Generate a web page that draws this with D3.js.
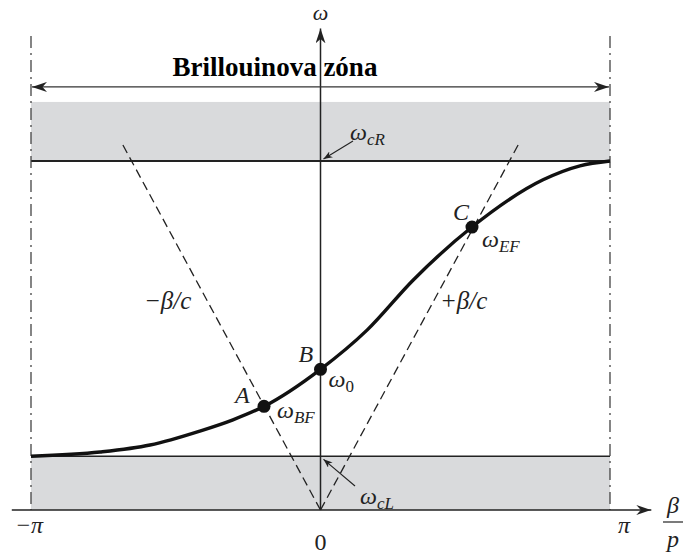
<!DOCTYPE html>
<html>
<head>
<meta charset="utf-8">
<script src="https://cdn.jsdelivr.net/npm/d3@7"></script>
<style>
  html, body { margin: 0; padding: 0; background: #fff; }
  svg { display: block; }
  svg text { font-family: "Liberation Serif", "Times New Roman", Times, "DejaVu Serif", serif; fill: #222; }
  .it { font-style: italic; }
</style>
</head>
<body>
<svg id="chart" width="683" height="556"></svg>
<script>
// Brillouin zone limits and axis ticks (β·p in radians)
const zoneEdges = [-Math.PI, Math.PI];
const tickValues = [-Math.PI, 0, Math.PI];
const tickLabels = ["\u2212\u03c0", "0", "\u03c0"];

// Characteristic frequencies (arbitrary ω units)
const omegaCL = 1.0;      // lower cutoff
const omegaCR = 6.5;      // upper cutoff
const bandTop = 7.6;      // top of the upper stop band
const zoneArrowOmega = 7.88;
const dashTopOmega = 8.83;
const axisTopOmega = 8.97;
const axisBetaRange = [-3.35, 3.59];

// Light lines ω = ±c·β
const lightSlope = 3.17;
const lightTopOmega = 6.84;
const lightLabels = ["\u2212\u03b2/c", "+\u03b2/c"];

// Dispersion curve samples (β, ω)
const curveBeta  = [-3.1416, -2.39, -1.85, -1.31, -0.95, -0.613, 0.0, 0.505, 1.004, 1.644, 2.415, 2.816, 3.1416];
const curveOmega = [1.0, 1.08, 1.21, 1.47, 1.68, 1.93, 2.62, 3.35, 4.28, 5.27, 6.15, 6.41, 6.5];

// Marked operating points
const pointNames = ["A", "B", "C"];
const pointBeta  = [-0.613, 0.0, 1.644];
const pointOmega = [1.93, 2.62, 5.27];
const pointSubs  = ["BF", "0", "EF"];

const svg = d3.select("#chart");
const x = d3.scaleLinear().domain(zoneEdges).range([31, 610]);
const y = d3.scaleLinear().domain([0, omegaCR]).range([510, 161]);

const ink = "#222";
const serif = "'Liberation Serif', 'Times New Roman', Times, serif";

// arrowhead markers
const defs = svg.append("defs");
function marker(id, len, half, color) {
  defs.append("marker")
    .attr("id", id)
    .attr("viewBox", `0 ${-half} ${len} ${2 * half}`)
    .attr("refX", len).attr("refY", 0)
    .attr("markerWidth", len).attr("markerHeight", 2 * half)
    .attr("markerUnits", "userSpaceOnUse")
    .attr("orient", "auto-start-reverse")
    .append("path")
    .attr("d", `M0,${-half} L${len},0 L0,${half} L${len * 0.3},0 Z`)
    .attr("fill", color);
}
marker("arr", 15, 5, ink);
marker("arrSmall", 9, 3.5, ink);

// stop bands
svg.append("rect")
  .attr("x", x(zoneEdges[0])).attr("width", x(zoneEdges[1]) - x(zoneEdges[0]))
  .attr("y", y(bandTop)).attr("height", y(omegaCR) - y(bandTop))
  .attr("fill", "#d9dadc");
svg.append("rect")
  .attr("x", x(zoneEdges[0])).attr("width", x(zoneEdges[1]) - x(zoneEdges[0]))
  .attr("y", y(omegaCL)).attr("height", y(0) - y(omegaCL))
  .attr("fill", "#d9dadc");

// cutoff lines
[omegaCR, omegaCL].forEach(w => {
  svg.append("line")
    .attr("x1", x(zoneEdges[0])).attr("x2", x(zoneEdges[1]))
    .attr("y1", y(w)).attr("y2", y(w))
    .attr("stroke", ink).attr("stroke-width", omegaCR === w ? 2 : 1.4);
});

// zone boundaries (dash-dot)
zoneEdges.forEach(b => {
  svg.append("line")
    .attr("x1", x(b)).attr("x2", x(b))
    .attr("y1", y(dashTopOmega)).attr("y2", y(0))
    .attr("stroke", "#444").attr("stroke-width", 1.3)
    .attr("stroke-dasharray", "12,5,2,5");
});

// light lines
[-1, 1].forEach(s => {
  svg.append("line")
    .attr("x1", x(0)).attr("y1", y(0))
    .attr("x2", x(s * lightTopOmega / lightSlope)).attr("y2", y(lightTopOmega))
    .attr("stroke", ink).attr("stroke-width", 1.3)
    .attr("stroke-dasharray", "9,5");
});

// axes
svg.append("line")
  .attr("x1", x(axisBetaRange[0])).attr("x2", x(axisBetaRange[1]))
  .attr("y1", y(0)).attr("y2", y(0))
  .attr("stroke", ink).attr("stroke-width", 1.5)
  .attr("marker-end", "url(#arr)");
svg.append("line")
  .attr("x1", x(0)).attr("x2", x(0))
  .attr("y1", y(0)).attr("y2", y(axisTopOmega))
  .attr("stroke", ink).attr("stroke-width", 1.5)
  .attr("marker-end", "url(#arr)");

// Brillouin zone span arrow
svg.append("line")
  .attr("x1", x(zoneEdges[0]) + 1).attr("x2", x(zoneEdges[1]) - 1)
  .attr("y1", y(zoneArrowOmega)).attr("y2", y(zoneArrowOmega))
  .attr("stroke", "#333").attr("stroke-width", 1.2)
  .attr("marker-start", "url(#arr)").attr("marker-end", "url(#arr)");
svg.append("text")
  .attr("x", 275).attr("y", y(zoneArrowOmega) - 11)
  .attr("text-anchor", "middle")
  .attr("font-family", serif)
  .attr("font-size", 27).attr("font-weight", "bold")
  .style("fill", "#000")
  .text("Brillouinova zóna");

// dispersion curve
const line = d3.line()
  .x((d, i) => x(curveBeta[i]))
  .y((d, i) => y(curveOmega[i]))
  .curve(d3.curveMonotoneX);
svg.append("path")
  .datum(curveBeta)
  .attr("d", line)
  .attr("fill", "none").attr("stroke", "#111").attr("stroke-width", 3.4);

// operating points
svg.selectAll("circle.pt")
  .data(pointNames)
  .join("circle")
  .attr("class", "pt")
  .attr("cx", (d, i) => x(pointBeta[i]))
  .attr("cy", (d, i) => y(pointOmega[i]))
  .attr("r", 6.5).attr("fill", "#111");

// helper: ω with a subscript
function omegaLabel(px, py, sub, subItalic = true) {
  const t = svg.append("text").attr("x", px).attr("y", py)
    .attr("font-family", serif).attr("font-size", 24);
  t.append("tspan").attr("class", "it").text("\u03c9");
  t.append("tspan").attr("class", subItalic ? "it" : null)
    .attr("font-size", 17).attr("dy", 5).text(sub);
  return t;
}

const nameOffsets = [[-29, -3], [-22, -7], [-19, -7]];
const subOffsets = [[13, 12], [8, 18], [10, 20]];
pointNames.forEach((n, i) => {
  const px = x(pointBeta[i]), py = y(pointOmega[i]);
  svg.append("text").attr("class", "it")
    .attr("font-family", serif)
    .attr("x", px + nameOffsets[i][0]).attr("y", py + nameOffsets[i][1])
    .attr("font-size", 24).text(n);
  omegaLabel(px + subOffsets[i][0], py + subOffsets[i][1], pointSubs[i], pointSubs[i] !== "0");
});

// cutoff labels with pointers
omegaLabel(350, 140, "cR");
svg.append("line")
  .attr("x1", 353).attr("y1", 141).attr("x2", x(0) + 3).attr("y2", y(omegaCR) - 2)
  .attr("stroke", ink).attr("stroke-width", 1.1).attr("marker-end", "url(#arrSmall)");
omegaLabel(360, 504, "cL");
svg.append("line")
  .attr("x1", 355).attr("y1", 486).attr("x2", x(0) + 3).attr("y2", y(omegaCL) + 3)
  .attr("stroke", ink).attr("stroke-width", 1.1).attr("marker-end", "url(#arrSmall)");

// light line labels
svg.append("text").attr("class", "it").attr("font-family", serif)
  .attr("x", 144).attr("y", 309).attr("font-size", 25).text(lightLabels[0]);
svg.append("text").attr("class", "it").attr("font-family", serif)
  .attr("x", 440).attr("y", 309).attr("font-size", 25).text(lightLabels[1]);

// axis titles
svg.append("text").attr("class", "it").attr("font-family", serif)
  .attr("x", x(0)).attr("y", 20).attr("text-anchor", "middle")
  .attr("font-size", 22).text("\u03c9");
svg.append("text").attr("class", "it").attr("font-family", serif)
  .attr("x", 673).attr("y", 513).attr("text-anchor", "middle")
  .attr("font-size", 24).text("\u03b2");
svg.append("line")
  .attr("x1", 663).attr("x2", 683).attr("y1", 522).attr("y2", 522)
  .attr("stroke", ink).attr("stroke-width", 1.2);
svg.append("text").attr("class", "it").attr("font-family", serif)
  .attr("x", 673).attr("y", 547).attr("text-anchor", "middle")
  .attr("font-size", 24).text("p");

// tick labels
const tickShift = [-2, 0, 14];
const tickBase = [533, 550, 533];
tickValues.forEach((v, i) => {
  svg.append("text")
    .attr("class", i === 1 ? null : "it")
    .attr("font-family", serif)
    .attr("x", x(v) + tickShift[i])
    .attr("y", tickBase[i])
    .attr("text-anchor", "middle")
    .attr("font-size", 24)
    .text(tickLabels[i]);
});
</script>
</body>
</html>
